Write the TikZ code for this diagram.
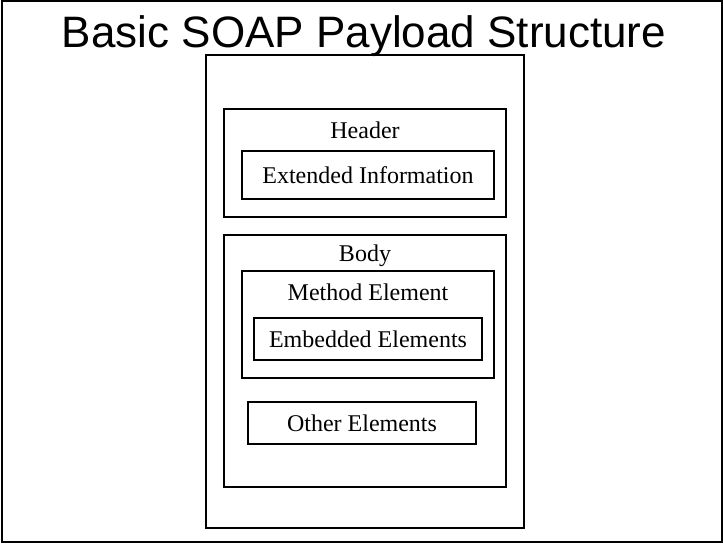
\documentclass[tikz,border=0pt]{standalone}
\usepackage{fontspec}
\setmainfont{Liberation Serif}
\newfontfamily\titlefont{Liberation Sans}
\usepackage{tikz}

\begin{document}
\begin{tikzpicture}[x=1pt, y=-1pt,
    box/.style={rectangle, draw, line width=1.7pt, inner sep=0pt, align=center, font=\fontsize{24}{28}\selectfont},
    lbl/.style={inner sep=0pt, font=\fontsize{24}{28}\selectfont}
]
    \useasboundingbox (0,0) rectangle (723,544);
    % Frame
    \draw[line width=2pt] (2.3,1) rectangle (722,542);

    % Title
    \node[inner sep=0pt, anchor=base, font=\titlefont\fontsize{44}{50}\selectfont] (title) at (364,47) {Basic SOAP Payload Structure};

    % Envelope
    \node[box, minimum width=318pt, minimum height=473pt] (envelope) at (365,291.5) {};

    % Header
    \node[box, minimum width=282pt, minimum height=108pt] (header) at (365,163) {};
    \node[lbl] (headerlbl) at (365,130) {Header};
    \node[box, minimum width=252pt, minimum height=48pt] (extended) at (368,175) {Extended Information};

    % Body
    \node[box, minimum width=282pt, minimum height=252pt] (body) at (365,361) {};
    \node[lbl] (bodylbl) at (365,256) {Body};
    \node[box, minimum width=252pt, minimum height=107pt] (method) at (368,324.5) {};
    \node[lbl] (methodlbl) at (368,292) {Method Element};
    \node[box, minimum width=228pt, minimum height=42pt] (embedded) at (368,339) {Embedded Elements};
    \node[box, minimum width=228pt, minimum height=42pt] (other) at (362,423) {Other Elements};
\end{tikzpicture}
\end{document}
